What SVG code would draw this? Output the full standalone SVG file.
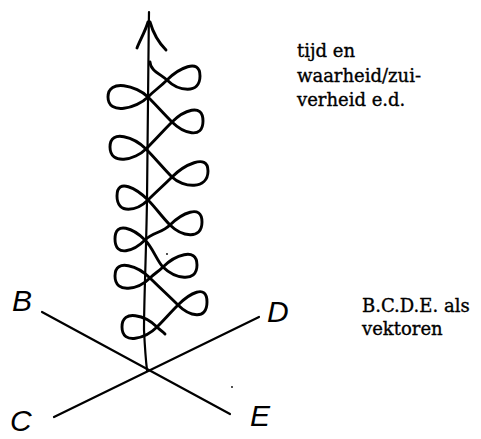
<svg xmlns="http://www.w3.org/2000/svg" width="481" height="439" viewBox="0 0 481 439">
  <style>
    .ink { fill: none; stroke: #000; stroke-linecap: round; stroke-linejoin: round; }
    .thick { stroke-width: 2.9; }
    .thin { stroke-width: 2.2; }
    .caption { font-family: "DejaVu Serif", "Liberation Serif", serif; font-size: 18px; fill: #000; stroke: #000; stroke-width: 0.35; }
    .hand { font-family: "Liberation Sans", Arial, sans-serif; font-size: 30px; font-style: italic; fill: #000; }
  </style>
  <rect width="481" height="439" fill="#fff"/>

  <!-- vertical time axis with arrowhead -->
  <g id="axis">
    <path class="ink thin" d="M149,12 C148,80 147,150 147,200 C146,260 144,300 144,330 C145,350 146,362 147,370"/>
    <path class="ink thick" d="M137,48 C140,40 145,32 148,22"/>
    <path class="ink thick" d="M166,50 C160,44 154,36 150,22"/>
  </g>

  <!-- looping curve winding round the axis -->
  <g id="spiral">
    <path class="ink thick" d="M150,62 C150,70 160,74 167,80
      C178,91 200,95 200,76 C200,57 178,69 167,80
      C159,88 156,89 148,97
      C137,108 108,116 108,97 C108,78 137,86 148,97
      C156,105 164,114 172,122
      C183,133 203,140 203,121 C203,102 183,111 172,122
      C164,130 154,141 146,149
      C135,160 110,166 110,147 C110,128 135,138 146,149
      C154,157 164,169 172,177
      C183,188 208,190 208,171 C208,152 183,166 172,177
      C164,185 156,192 148,200
      C137,211 117,215 117,196 C117,177 137,189 148,200
      C156,208 162,217 170,225
      C181,236 202,241 202,222 C202,203 181,214 170,225
      C162,233 153,232 145,240
      C134,251 115,258 115,239 C115,220 134,229 145,240
      C153,248 157,261 163,267
      C174,278 197,284 197,265 C197,246 174,256 163,267
      C158,272 155,273 150,278
      C139,289 115,295 115,276 C115,257 139,267 150,278
      C158,286 170,297 178,305
      C189,316 207,321 207,302 C207,283 189,294 178,305
      C170,313 165,319 157,327
      C146,338 122,346 122,327 C122,308 146,316 157,327
      C160,330 163,332 165,334"/>
  </g>

  <!-- the two crossing vector lines -->
  <g id="vectors">
    <line class="ink thin" x1="42" y1="312" x2="230" y2="414"/>
    <line class="ink thin" x1="54" y1="417" x2="259" y2="317"/>
    <circle cx="167" cy="254" r="0.9" fill="#000"/>
    <circle cx="232" cy="387" r="0.9" fill="#000"/>
  </g>

  <g id="label-B"><text class="hand" x="12" y="311">B</text></g>
  <g id="label-C"><text class="hand" x="10" y="431">C</text></g>
  <g id="label-D"><text class="hand" x="267" y="322">D</text></g>
  <g id="label-E"><text class="hand" x="250" y="426">E</text></g>

  <g id="caption-time">
    <text class="caption" x="297" y="57">tijd en</text>
    <text class="caption" x="297" y="82">waarheid/zui-</text>
    <text class="caption" x="297" y="106">verheid e.d.</text>
  </g>

  <g id="caption-vectors">
    <text class="caption" x="362" y="312">B.C.D.E. als</text>
    <text class="caption" x="362" y="335">vektoren</text>
  </g>
</svg>
